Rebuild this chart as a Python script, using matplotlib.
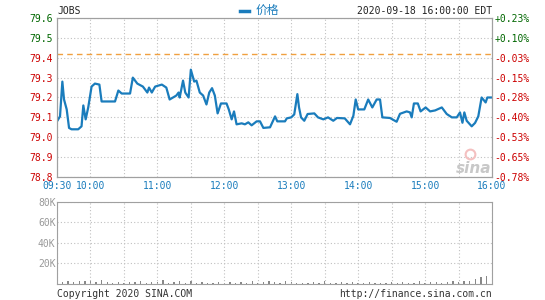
import matplotlib
matplotlib.use("Agg")
import matplotlib.pyplot as plt
import numpy as np

plt.rcParams['font.family'] = ['DejaVu Sans Mono', 'Noto Sans CJK SC']

# price line, minutes after 09:30
minutes = [0, 2.7, 4.8, 6.3, 8.7, 10.8, 13, 19, 22, 23.6, 25.7, 28, 31, 34, 38, 40, 52, 55, 58,
           65.5, 68, 72, 77, 81, 82.5, 85, 88, 94, 98, 101, 104, 107, 109, 110, 113, 115, 118,
           120, 123, 125, 128, 131, 134, 136.5, 139, 141.5, 144, 147, 152, 154, 156.6, 158.7,
           161, 165.6, 168.5, 171.5, 174.5, 179, 182, 185, 191, 195.5, 197.5, 199, 204.4, 206,
           210, 212.7, 215.5, 217, 218.8, 221.7, 224.7, 230.7, 234, 238.8, 243, 247.7, 251,
           258, 262.7, 265.7, 267.8, 270, 275.5, 279, 282.7, 286.6, 289.6, 291.7, 298.5, 304.5,
           307.5, 313.5, 316.5, 318, 320, 323.5, 326, 330.5, 334.5, 339, 345, 349.4, 354, 358.4,
           361.3, 363.5, 365.2, 367.3, 371.8, 374.8, 377.7, 380.7, 384.3, 385.8, 390]
prices = [79.08, 79.105, 79.28, 79.19, 79.14, 79.047, 79.04, 79.04, 79.055, 79.16, 79.09, 79.15,
          79.255, 79.27, 79.265, 79.18, 79.18, 79.235, 79.22, 79.22, 79.30, 79.27, 79.255,
          79.225, 79.25, 79.225, 79.255, 79.265, 79.25, 79.19, 79.2, 79.21, 79.225, 79.2,
          79.285, 79.225, 79.2, 79.34, 79.28, 79.285, 79.225, 79.21, 79.165, 79.225, 79.247,
          79.21, 79.12, 79.17, 79.17, 79.14, 79.09, 79.13, 79.065, 79.07, 79.065, 79.075,
          79.06, 79.08, 79.08, 79.047, 79.05, 79.105, 79.08, 79.08, 79.08, 79.095, 79.1,
          79.115, 79.217, 79.15, 79.1, 79.083, 79.117, 79.12, 79.1, 79.09, 79.1, 79.083,
          79.097, 79.095, 79.065, 79.108, 79.19, 79.14, 79.14, 79.19, 79.15, 79.19, 79.19,
          79.1, 79.097, 79.078, 79.118, 79.13, 79.125, 79.1, 79.17, 79.17, 79.13, 79.15,
          79.13, 79.135, 79.15, 79.117, 79.1, 79.1, 79.125, 79.073, 79.125, 79.083, 79.055,
          79.072, 79.105, 79.2, 79.175, 79.2, 79.2]
prev_close = 79.417

# volume per 5 minutes
vol_minutes = list(range(0, 390, 5))
volumes = [9500, 2000, 2500, 1500, 3000, 2500, 4000, 1500, 3500, 2000, 1000, 1500, 500, 2000,
           1500, 2500, 1000, 1800, 1500, 3500, 1200, 1500, 2500, 1200, 3000, 1000, 1500, 1200,
           1000, 2200, 1000, 1500, 800, 2000, 1200, 2500, 1000, 2000, 2800, 1500, 1000, 2500,
           1500, 1000, 800, 1200, 1800, 1000, 2500, 1200, 800, 1500, 1000, 2200, 1200, 600,
           1500, 1000, 800, 1200, 2000, 1000, 1500, 800, 1200, 2500, 1000, 1500, 2000, 1000,
           1500, 2500, 2000, 3000, 2500, 4500, 6500, 7500]

price_ticks = [78.8, 78.9, 79.0, 79.1, 79.2, 79.3, 79.4, 79.5, 79.6]
pct_labels = ['-0.78%', '-0.65%', '-0.53%', '-0.40%', '-0.28%', '-0.15%', '-0.03%', '+0.10%', '+0.23%']
time_ticks = list(range(0, 391, 30))
time_labels = ['09:30', '10:00', '', '11:00', '', '12:00', '', '13:00', '', '14:00', '', '15:00', '', '16:00']
vol_ticks = [20000, 40000, 60000, 80000]
vol_labels = ['20K', '40K', '60K', '80K']

red = '#cc0000'
green = '#006600'
blue = '#1a7cbc'
frame = '#a0a0a0'
gridc = '#c0c0c0'

fig = plt.figure(figsize=(5.45, 3.0), dpi=100)
ax = fig.add_axes([57 / 545, 1 - 177 / 300, 435 / 545, 159 / 300])
axv = fig.add_axes([57 / 545, 1 - 284 / 300, 435 / 545, 82.5 / 300])

ax.plot(minutes, prices, color=blue, lw=1.6, solid_joinstyle='round')
ax.axhline(prev_close, color='#f0a040', lw=1, dashes=(4, 3))
ax.set_xlim(0, 390)
ax.set_ylim(78.8, 79.6)
ax.set_yticks(price_ticks)
ax.set_yticklabels(['%.1f' % t for t in price_ticks])
for t, lab in zip(price_ticks, ax.get_yticklabels()):
    lab.set_color(green if t > prev_close else red)
ax.set_xticks(time_ticks)
ax.set_xticklabels(time_labels, color=blue)
ax.tick_params(length=0, labelsize=7, pad=3)
ax.grid(True, color=gridc, lw=0.8, ls=(0, (1, 2)))

ax2 = ax.twinx()
ax2.set_ylim(78.8, 79.6)
ax2.set_yticks(price_ticks)
ax2.set_yticklabels(pct_labels)
for lab in ax2.get_yticklabels():
    lab.set_color(green if lab.get_text().startswith('+') else red)
ax2.tick_params(length=0, labelsize=7, pad=2)

for a in (ax, ax2, axv):
    for s in a.spines.values():
        s.set_color(frame)

ax.text(0.0, 1.01, 'JOBS', transform=ax.transAxes, fontsize=7, color='#222222', va='bottom')
ax.text(1.0, 1.01, '2020-09-18 16:00:00 EDT', transform=ax.transAxes, fontsize=7,
        color='#222222', va='bottom', ha='right')
ax.plot([0.421, 0.441], [1.045, 1.045], transform=ax.transAxes, color=blue, lw=2.5,
        clip_on=False)
ax.text(0.456, 1.005, '价格', transform=ax.transAxes, fontsize=8.5, color=blue, va='bottom',
        family=['Noto Sans CJK SC', 'DejaVu Sans'])
# sina watermark
ax.plot([0.95], [0.145], transform=ax.transAxes, marker='o', ms=7, mfc='none',
        mec='#f4c0c0', mew=1.5)
ax.text(0.998, 0.025, 'sina', transform=ax.transAxes, fontsize=11, color='#c8c8c8',
        style='italic', weight='bold', ha='right', family='DejaVu Sans')

axv.bar(vol_minutes, volumes, width=1.2, color='#888888')
axv.set_xlim(0, 390)
axv.set_ylim(0, 80000)
axv.set_yticks(vol_ticks)
axv.set_yticklabels(vol_labels, color='#999999')
axv.set_xticks(time_ticks)
axv.set_xticklabels([])
axv.tick_params(length=0, labelsize=7, pad=1)
axv.grid(True, color=gridc, lw=0.8, ls=(0, (1, 2)))

fig.text(57 / 545, 1 - 294 / 300, 'Copyright 2020 SINA.COM', fontsize=7, color='#333333',
         va='center')
fig.text(492 / 545, 1 - 294 / 300, 'http://finance.sina.com.cn', fontsize=7, color='#333333',
         va='center', ha='right')

fig.savefig('out.png', dpi=100)
